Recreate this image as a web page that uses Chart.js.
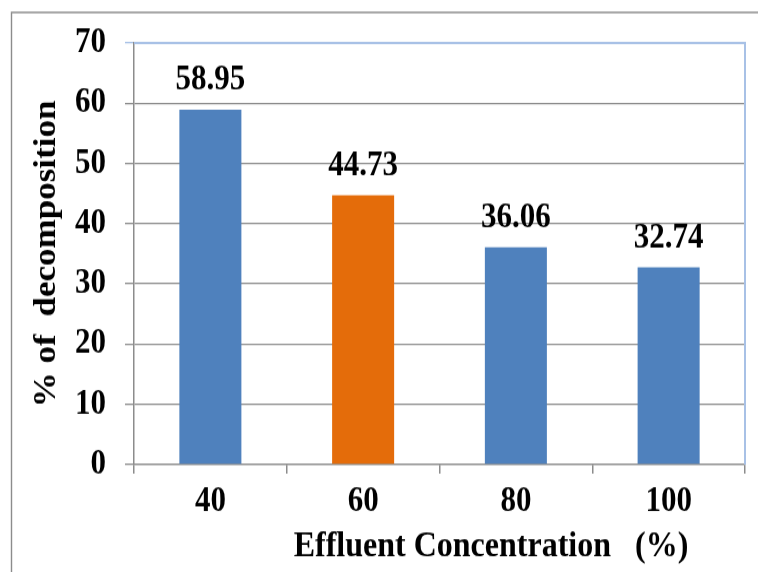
<!DOCTYPE html>
<html>
<head>
<meta charset="utf-8">
<script src="https://cdn.jsdelivr.net/npm/chart.js@4/dist/chart.umd.min.js"></script>
<style>
  html, body { margin: 0; padding: 0; background: #ffffff; overflow: hidden; }
  #outer { width: 758px; height: 572px; position: relative; overflow: hidden; }
  #wrap { width: 758px; height: 506px; transform-origin: 0 0; transform: scale(1, 1.1304); }
</style>
</head>
<body>
<div id="outer"><div id="wrap"><canvas id="c" width="758" height="506"></canvas></div></div>
<script>
const categories = ['40', '60', '80', '100'];
const decomposition = [58.95, 44.73, 36.06, 32.74];
const barColors = ['#4f81bd', '#e46c0a', '#4f81bd', '#4f81bd'];
const yTicks = [0, 10, 20, 30, 40, 50, 60, 70];
const xTitle = 'Effluent Concentration   (%)';
const yTitle = '% of  decomposition';

const FONT = '"Liberation Serif", "Times New Roman", serif';

const framePlugin = {
  id: 'frame',
  beforeDraw(chart) {
    const ctx = chart.ctx;
    ctx.save();
    ctx.fillStyle = '#ffffff';
    ctx.fillRect(0, 0, chart.width, chart.height);
    ctx.strokeStyle = '#8c8c8c';
    ctx.lineWidth = 1.4;
    ctx.beginPath();
    ctx.moveTo(11.5, chart.height);
    ctx.lineTo(11.5, 11);
    ctx.lineTo(chart.width, 11);
    ctx.stroke();
    ctx.restore();
  },
  afterDatasetsDraw(chart) {
    const ctx = chart.ctx;
    const a = chart.chartArea;
    ctx.save();
    ctx.strokeStyle = '#a8c1e6';
    ctx.lineWidth = 2;
    ctx.beginPath();
    ctx.moveTo(a.left, a.top);
    ctx.lineTo(a.right, a.top);
    ctx.lineTo(a.right, a.bottom);
    ctx.stroke();
    // data labels
    const meta = chart.getDatasetMeta(0);
    ctx.fillStyle = '#000000';
    ctx.font = 'bold 31px ' + FONT;
    ctx.textAlign = 'center';
    ctx.textBaseline = 'alphabetic';
    meta.data.forEach((bar, i) => {
      ctx.fillText(decomposition[i].toFixed(2), bar.x, bar.y - 18);
    });
    // x axis title
    ctx.font = 'bold 32px ' + FONT;
    ctx.textBaseline = 'middle';
    ctx.fillText(xTitle, 491, 484);
    ctx.restore();
  }
};

new Chart(document.getElementById('c'), {
  type: 'bar',
  data: {
    labels: categories,
    datasets: [{
      data: decomposition,
      backgroundColor: barColors,
      borderWidth: 0,
      barPercentage: 0.406,
      categoryPercentage: 1.0
    }]
  },
  options: {
    responsive: false,
    animation: false,
    devicePixelRatio: 1,
    layout: { padding: { top: 38, right: 13, left: 0, bottom: 0 } },
    plugins: { legend: { display: false }, tooltip: { enabled: false } },
    scales: {
      x: {
        grid: { drawOnChartArea: false, color: '#8c8c8c', lineWidth: 1.5, tickLength: 8, offset: true },
        border: { display: true, color: '#8c8c8c', width: 1.3 },
        ticks: { color: '#000', font: { family: FONT, size: 31, weight: 'bold' }, padding: 6, maxRotation: 0 },
        afterFit(scale) { scale.height = 95; }
      },
      y: {
        min: 0, max: 70,
        afterBuildTicks(scale) { scale.ticks = yTicks.map(v => ({ value: v })); },
        grid: {
          color: ctx => (ctx.tick && ctx.tick.value === 70) ? '#a8c1e6' : '#8c8c8c',
          lineWidth: 1.3, tickLength: 9
        },
        border: { display: true, color: '#8c8c8c', width: 1.5 },
        ticks: { color: '#000', font: { family: FONT, size: 31, weight: 'bold' }, padding: 19 },
        title: {
          display: true, text: yTitle, color: '#000',
          font: { family: FONT, size: 31, weight: 'bold' },
          padding: { top: 28, bottom: 0 }
        },
        afterFit(scale) { scale.width = 134; }
      }
    }
  },
  plugins: [framePlugin]
});
</script>
</body>
</html>
